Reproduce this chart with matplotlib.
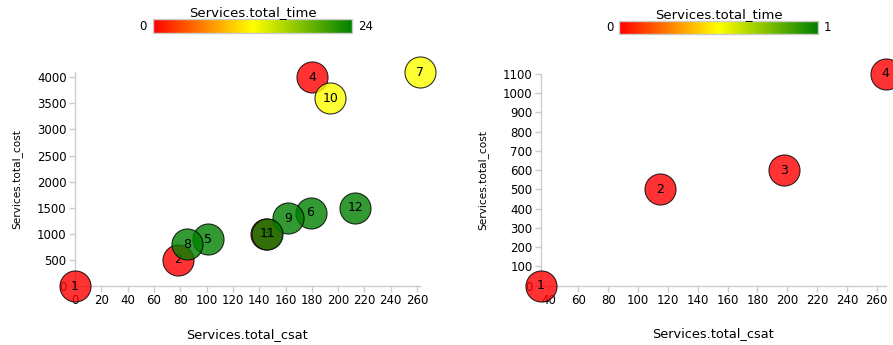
import matplotlib
matplotlib.use("Agg")
import matplotlib.pyplot as plt
import numpy as np
from matplotlib.colors import LinearSegmentedColormap, Normalize
from matplotlib.cm import ScalarMappable

plt.rcParams['font.family'] = ['DejaVu Sans']

# Left chart data (service id, csat, cost, time)
left_ids = ['1', '2', '3', '4', '5', '6', '7', '8', '9', '10', '11', '12']
left_csat = [0, 78, 145, 180, 101, 179, 262, 85, 162, 194, 146, 213]
left_cost = [0, 500, 995, 4000, 900, 1400, 4100, 800, 1300, 3600, 1000, 1500]
left_time = [0, 0, 0, 0, 24, 24, 12, 24, 24, 12, 24, 24]

# Right chart data
right_ids = ['1', '2', '3', '4']
right_csat = [35, 115, 198, 266]
right_cost = [0, 500, 600, 1100]
right_time = [0, 0, 0, 0]

cmap = LinearSegmentedColormap.from_list('ryg', ['#ff0000', '#ffff00', '#008000'])

fig = plt.figure(figsize=(8.93, 3.45), dpi=100)

AXIS_GREY = '#cccccc'


def draw_panel(ax_rect, cbar_rect, ids, csat, cost, time, tmax, xticks, yticks, xlim, ylim):
    ax = fig.add_axes(ax_rect)
    norm = Normalize(0, tmax)
    for i in range(len(ids)):
        ax.scatter(csat[i], cost[i], s=500, color=cmap(norm(time[i])), alpha=0.8,
                   edgecolors='black', linewidths=0.8, clip_on=False, zorder=3 + i)
        ax.text(csat[i], cost[i], ids[i], ha='center', va='center', fontsize=9,
                color='black', clip_on=False, zorder=3 + i)
    ax.set_xlim(*xlim)
    ax.set_ylim(*ylim)
    ax.set_xticks(xticks)
    ax.set_yticks(yticks)
    for side in ['top', 'right']:
        ax.spines[side].set_visible(False)
    for side in ['left', 'bottom']:
        ax.spines[side].set_color(AXIS_GREY)
        ax.spines[side].set_linewidth(1)
    ax.tick_params(axis='both', colors=AXIS_GREY, labelcolor='black', labelsize=8.5,
                   length=4, width=1, pad=2)
    ax.set_xlabel('Services.total_csat', fontsize=9.3)
    ax.xaxis.label.set_va('center')
    ax.xaxis.set_label_coords(0.5, -0.225)
    ax.set_ylabel('Services.total_cost', fontsize=7.6)
    ax.yaxis.label.set_va('center')
    ax.yaxis.set_label_coords(-0.168, 0.5)
    ax.patch.set_visible(False)

    cax = fig.add_axes(cbar_rect)
    cb = fig.colorbar(ScalarMappable(norm=norm, cmap=cmap), cax=cax, orientation='horizontal')
    cb.set_ticks([])
    cb.outline.set_edgecolor(AXIS_GREY)
    cb.outline.set_linewidth(1)
    cax.set_title('Services.total_time', fontsize=9.5, pad=1.5)
    cax.text(-0.03, 0.5, '0', transform=cax.transAxes, ha='right', va='center', fontsize=8.5)
    cax.text(1.03, 0.5, str(tmax), transform=cax.transAxes, ha='left', va='center', fontsize=8.5)
    return ax


draw_panel([0.084, 0.171, 0.386, 0.620], [0.171, 0.9035, 0.2235, 0.0406],
           left_ids, left_csat, left_cost, left_time, 24,
           np.arange(0, 261, 20), np.arange(0, 4001, 500), (0, 262), (0, 4100))

draw_panel([0.6058, 0.172, 0.386, 0.6136], [0.6935, 0.9006, 0.2222, 0.0386],
           right_ids, right_csat, right_cost, right_time, 1,
           np.arange(40, 261, 20), np.arange(0, 1101, 100), (35, 266), (0, 1100))

fig.savefig('out.png', dpi=100)
